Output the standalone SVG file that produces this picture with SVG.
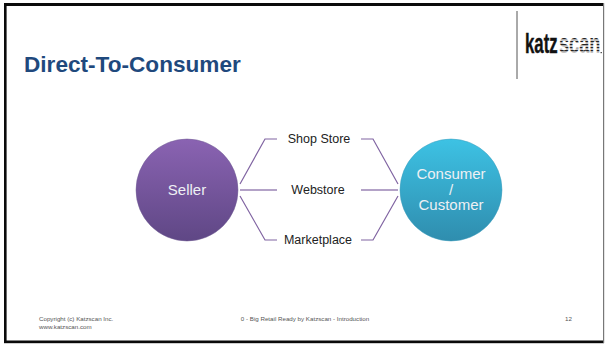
<svg xmlns="http://www.w3.org/2000/svg" width="605" height="344" viewBox="0 0 605 344">
<style>
text{font-family:"Liberation Sans",Arial,sans-serif}
.lbl{font-size:12.5px;fill:#222;text-anchor:middle}
.ctext{font-size:15px;fill:#eef0f4;text-anchor:middle}
.foot{font-size:6.2px;fill:#555}
.con{fill:none;stroke:#8064a2;stroke-width:1.2}
.mid{fill:none;stroke:#b3a2c7;stroke-width:2}
.edge{fill:#0a0a0a}
</style>
<defs>
<linearGradient id="p" x1="0" y1="0" x2="0" y2="1"><stop offset="0" stop-color="#8a63b2"/><stop offset="1" stop-color="#5f4785"/></linearGradient>
<linearGradient id="b" x1="0" y1="0" x2="0" y2="1"><stop offset="0" stop-color="#3dc2e4"/><stop offset="1" stop-color="#2f8dae"/></linearGradient>
<pattern id="stripes" width="4" height="3" patternUnits="userSpaceOnUse"><rect width="4" height="1.5" fill="#222"/><rect y="1.5" width="4" height="1.5" fill="#c4c4c4"/></pattern>
</defs>
<rect width="605" height="344" fill="#fff"/>
<rect class="edge" x="4" y="3" width="600" height="3"/>
<rect class="edge" x="4" y="3" width="2.6" height="340"/>
<rect class="edge" x="4" y="340.5" width="600" height="2.7"/>
<rect x="603" y="3" width="1.2" height="340" fill="#777"/>
<text x="24" y="72" font-size="22.6" font-weight="700" fill="#1f497d">Direct-To-Consumer</text>
<g id="logo">
<line x1="517" y1="11" x2="517" y2="79" stroke="#555" stroke-width="1"/>
<text transform="translate(525 53) scale(.6 1)" font-size="28" font-weight="700" fill="#111" stroke="#111" stroke-width=".4">katz</text>
<text transform="translate(559 53) scale(.65 1)" font-size="28" font-weight="700" fill="url(#stripes)">scan</text>
<rect x="600.5" y="52" width="1.5" height="1.2" fill="#555"/>
</g>
<g id="connectors">
<path class="con" d="M240 184L265 139H277"/>
<path class="mid" d="M240 190H277"/>
<path class="con" d="M240 196L265 240H277"/>
<path class="con" d="M361 139H373L398 184"/>
<path class="mid" d="M361 190H398"/>
<path class="con" d="M361 240H373L398 196"/>
</g>
<g id="seller"><circle cx="187" cy="190" r="51" fill="url(#p)" stroke="#6f5a92" stroke-width=".5"/><text class="ctext" x="187" y="195">Seller</text></g>
<g id="consumer"><circle cx="451" cy="190" r="51" fill="url(#b)" stroke="#3a9cbc" stroke-width=".5"/><text class="ctext" x="451" y="179">Consumer</text><text class="ctext" x="451" y="195">/</text><text class="ctext" x="451" y="210">Customer</text></g>
<g id="shop"><text class="lbl" x="319" y="143">Shop Store</text></g>
<g id="webstore"><text class="lbl" x="318" y="194">Webstore</text></g>
<g id="marketplace"><text class="lbl" x="318" y="244">Marketplace</text></g>
<g id="footer">
<text class="foot" x="39" y="320.5">Copyright (c) Katzscan Inc.</text>
<text class="foot" x="39" y="328.5">www.katzscan.com</text>
<text class="foot" x="305" y="320.5" text-anchor="middle">0 - Big Retail Ready by Katzscan - Introduction</text>
<text class="foot" x="572" y="320.5" text-anchor="end">12</text>
</g>
</svg>
